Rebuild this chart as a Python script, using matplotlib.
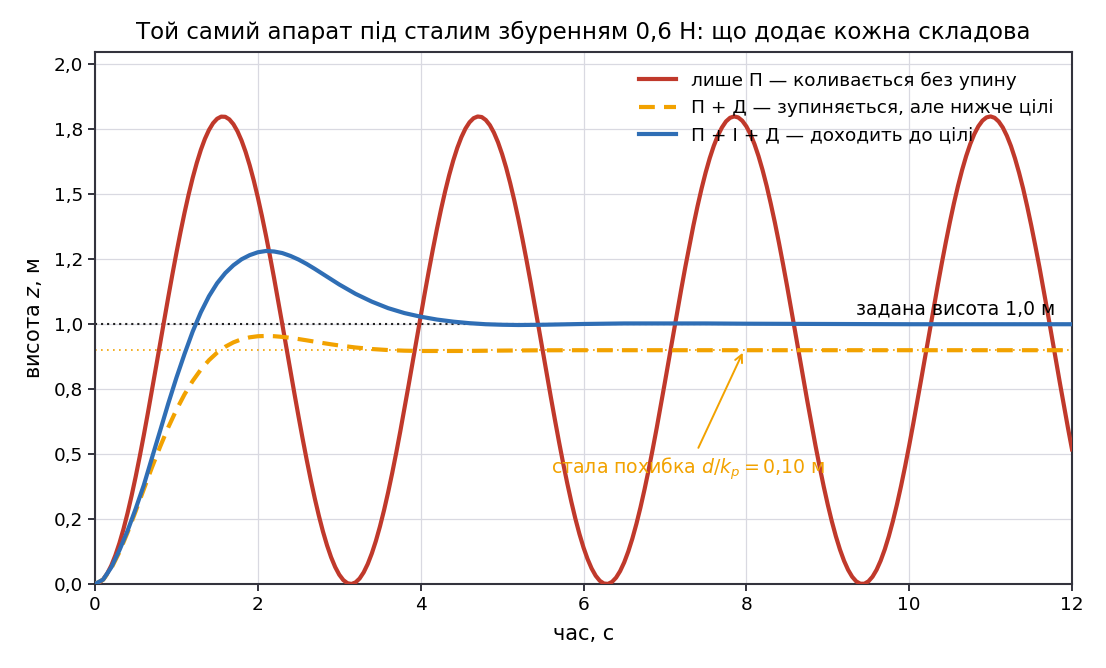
import numpy as np
import matplotlib
matplotlib.use("Agg")
import matplotlib.pyplot as plt
from matplotlib.ticker import FuncFormatter, MultipleLocator

# ---------------- data ----------------
# P only: heights read every 0.1 s ...
t_p = [round(0.1 * i, 1) for i in range(121)]
z_p = [0.0, 0.0179, 0.0710, 0.1572, 0.2730, 0.4137, 0.5739, 0.7470, 0.9263, 1.1045,
       1.2745, 1.4297, 1.5637, 1.6712, 1.7480, 1.7910, 1.7985, 1.7701, 1.7071, 1.6119,
       1.4883, 1.3412, 1.1766, 1.0009, 0.8212, 0.6447, 0.4783, 0.3288, 0.2020, 0.1030,
       0.0358, 0.0031, 0.0061, 0.0448, 0.1176, 0.2215, 0.3525, 0.5053, 0.6739, 0.8515,
       1.0310, 1.2052, 1.3674, 1.5109, 1.6300, 1.7200, 1.7774, 1.7997, 1.7862, 1.7374,
       1.6552, 1.5428, 1.4049, 1.2468, 1.0749, 0.8960, 0.7173, 0.5459, 0.3885, 0.2516,
       0.1405, 0.0597, 0.0124, 0.0005, 0.0244, 0.0833, 0.1747, 0.2950, 0.4393, 0.6019,
       0.7770, 0.9565, 1.1338, 1.3010, 1.4538, 1.5837, 1.6864, 1.7572, 1.7947, 1.7961,
       1.7619, 1.6932, 1.5929, 1.4644, 1.3146, 1.1477, 0.9707, 0.7917, 0.6162, 0.4522,
       0.3057, 0.1833, 0.0894, 0.0279, 0.0011, 0.0102, 0.0547, 0.1329, 0.2418, 0.3768,
       0.5327, 0.7033, 0.8817, 1.0608, 1.2335, 1.3929, 1.5327, 1.6473, 1.7320, 1.7837,
       1.8000, 1.7803, 1.7255, 1.6381, 1.5220, 1.3795, 1.2200, 1.0464, 0.8661, 0.6878,
       0.5182]
# ... and at the half-steps in between (0.05, 0.15, ...)
t_p_mid = [round(0.1 * i + 0.05, 2) for i in range(120)]
z_p_mid = [0.0045, 0.0402, 0.1102, 0.2116, 0.3406, 0.4918, 0.6592, 0.8363, 1.0160, 1.1910,
           1.3544, 1.4996, 1.6210, 1.7137, 1.7739, 1.7992, 1.7887, 1.7428, 1.6633, 1.5533,
           1.4173, 1.2607, 1.0897, 0.9112, 0.7321, 0.5598, 0.4011, 0.2622, 0.1488, 0.0653,
           0.0151, 0.0001, 0.0211, 0.0771, 0.1658, 0.2839, 0.4265, 0.5881, 0.7620, 0.9415,
           1.1193, 1.2883, 1.4419, 1.5739, 1.6790, 1.7531, 1.7931, 1.7976, 1.7663, 1.7004,
           1.6026, 1.4768, 1.3281, 1.1622, 0.9860, 0.8062, 0.6303, 0.4650, 0.3172, 0.1926,
           0.0961, 0.0317, 0.0020, 0.0080, 0.0497, 0.1252, 0.2316, 0.3646, 0.5190, 0.6886,
           0.8666, 1.0460, 1.2195, 1.3803, 1.5219, 1.6388, 1.7262, 1.7807, 1.8000, 1.7834,
           1.7317, 1.6468, 1.5321, 1.3922, 1.2327, 1.0600, 0.8808, 0.7024, 0.5319, 0.3761,
           0.2412, 0.1325, 0.0544, 0.0100, 0.0011, 0.0281, 0.0898, 0.1838, 0.3063, 0.4525,
           0.6166, 0.7920, 0.9716, 1.1484, 1.3153, 1.4657, 1.5935, 1.6936, 1.7621, 1.7962,
           1.7946, 1.7574, 1.6860, 1.5832, 1.4532, 1.3011, 1.1331, 0.9557, 0.7761, 0.6015]

t_pd = [0.0, 0.1, 0.2, 0.3, 0.4, 0.5, 0.6, 0.7, 0.8, 0.9, 1.0, 1.1, 1.2, 1.3, 1.4,
        1.5, 1.6, 1.7, 1.8, 1.9, 2.0, 2.1, 2.2, 2.3, 2.4, 2.5, 2.6, 2.7, 2.8, 2.9,
        3.0, 3.2, 3.4, 3.6, 3.8, 4.0, 4.5, 5.0, 5.5, 6.0, 7.0, 8.0, 9.0, 10.0, 11.0, 12.0]
z_pd = [0.0, 0.0164, 0.0601, 0.1229, 0.1982, 0.2805, 0.3653, 0.4492, 0.5287, 0.6032,
        0.6705, 0.7302, 0.7818, 0.8255, 0.8616, 0.8906, 0.9134, 0.9302, 0.9422, 0.9496,
        0.9538, 0.9549, 0.9539, 0.9513, 0.9476, 0.9430, 0.9380, 0.9328, 0.9276, 0.9227,
        0.9182, 0.9105, 0.9046, 0.9006, 0.8982, 0.8970, 0.8971, 0.8986, 0.8997, 0.9000,
        0.9000, 0.9000, 0.9000, 0.9000, 0.9000, 0.9000]

t_pid = [0.0, 0.1, 0.2, 0.3, 0.4, 0.5, 0.6, 0.7, 0.8, 0.9, 1.0, 1.1, 1.2, 1.3, 1.4,
         1.5, 1.6, 1.7, 1.8, 1.9, 2.0, 2.1, 2.2, 2.3, 2.4, 2.5, 2.6, 2.7, 2.8, 2.9,
         3.0, 3.2, 3.4, 3.6, 3.8, 4.0, 4.2, 4.4, 4.6, 4.8, 5.0, 5.2, 5.5, 6.0, 6.5,
         7.0, 7.5, 8.0, 9.0, 10.0, 11.0, 12.0]
z_pid = [0.0, 0.017, 0.064, 0.130, 0.205, 0.290, 0.381, 0.486, 0.590, 0.695,
         0.794, 0.886, 0.972, 1.046, 1.108, 1.158, 1.197, 1.227, 1.250, 1.266,
         1.277, 1.282, 1.280, 1.274, 1.263, 1.249, 1.232, 1.213, 1.193, 1.173,
         1.153, 1.117, 1.087, 1.062, 1.043, 1.029, 1.018, 1.010, 1.004, 1.000,
         0.998, 0.997, 0.998, 1.001, 1.003, 1.003, 1.003, 1.002, 1.001, 1.000,
         1.000, 1.000]

target = 1.0
steady_pd = 0.9

labels = ["лише П — коливається без упину",
          "П + Д — зупиняється, але нижче цілі",
          "П + І + Д — доходить до цілі"]
title = "Той самий апарат під сталим збуренням 0,6 Н: що додає кожна складова"

# merge the P-only samples into one time-ordered table
tp_all = np.array(t_p + t_p_mid)
zp_all = np.array(z_p + z_p_mid)
order = np.argsort(tp_all)
tp_all, zp_all = tp_all[order], zp_all[order]

# ---------------- styling ----------------
RED = "#c0392b"
ORANGE = "#f2a200"
BLUE = "#2f6eb5"
DARK = "#33333d"
GRID = "#d9d9e1"

plt.rcParams["font.family"] = ["DejaVu Sans"]

fig = plt.figure(figsize=(11.06, 6.68), dpi=100)
ax = fig.add_axes([95 / 1106, 1 - 584 / 668, (1072 - 95) / 1106, (584 - 52) / 668])

ax.axhline(target, color="#222222", lw=1.5, ls=(0, (1, 1.9)), zorder=2)
ax.axhline(steady_pd, color=ORANGE, lw=1.2, ls=(0, (1, 2.6)), zorder=2)

ax.plot(tp_all, zp_all, color=RED, lw=3, label=labels[0], zorder=4)
ax.plot(t_pd, z_pd, color=ORANGE, lw=3, ls=(0, (3.8, 2.2)), label=labels[1], zorder=4)
ax.plot(t_pid, z_pid, color=BLUE, lw=3, label=labels[2], zorder=4)

ax.set_xlim(0, 12)
ax.set_ylim(0, 2.048)
ax.xaxis.set_major_locator(MultipleLocator(2))
ax.yaxis.set_major_locator(MultipleLocator(0.25))
ax.yaxis.set_major_formatter(FuncFormatter(lambda v, p: f"{v:.1f}".replace(".", ",")))
ax.xaxis.set_major_formatter(FuncFormatter(lambda v, p: f"{v:.0f}"))

ax.grid(True, color=GRID, lw=0.9)
ax.set_axisbelow(True)
for s in ax.spines.values():
    s.set_color(DARK)
    s.set_linewidth(1.5)
ax.tick_params(colors=DARK, labelcolor="black", labelsize=13.3, width=1.4, length=5)

ax.set_title(title, fontsize=16.5, pad=9)
ax.set_xlabel("час, с", fontsize=15, labelpad=7)
ax.set_ylabel("висота $z$, м", fontsize=15, labelpad=7)

ax.text(11.8, 1.022, "задана висота 1,0 м", ha="right", va="bottom", fontsize=13.5,
        color="black", zorder=5)

ax.annotate("стала похибка $d/k_p = 0{,}10$ м", xy=(7.97, 0.9), xytext=(7.29, 0.443),
            ha="center", va="center", fontsize=13.6, color=ORANGE,
            arrowprops=dict(arrowstyle="->", color=ORANGE, lw=1.4,
                            shrinkA=4, shrinkB=2), zorder=5)

leg = ax.legend(loc="upper right", frameon=False, fontsize=13.3, handlelength=2.0,
                handletextpad=0.8, borderaxespad=0.6, labelspacing=0.5,
                bbox_to_anchor=(0.9995, 0.998))

fig.savefig("out.png", dpi=100)
